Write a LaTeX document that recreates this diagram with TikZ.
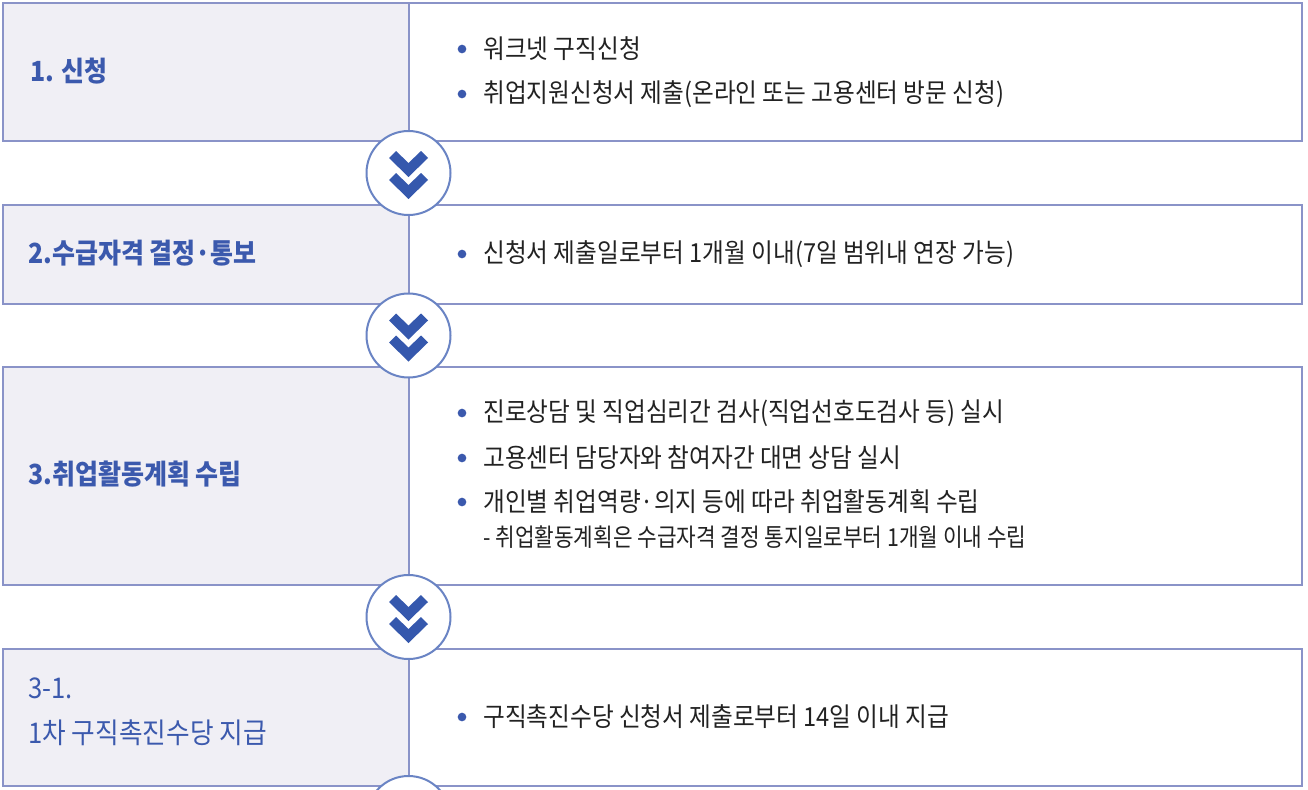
\documentclass[tikz,border=0pt]{standalone}
\usepackage{fontspec}
\setmainfont{Noto Sans CJK KR}[FakeStretch=0.9]
\newfontfamily\subfont{Noto Sans CJK KR}[FakeStretch=0.86]
\definecolor{bordc}{HTML}{8A93C8}
\definecolor{cellc}{HTML}{F0EFF5}
\definecolor{titlec}{HTML}{3B59AD}
\definecolor{chevc}{HTML}{3558AD}
\definecolor{circc}{HTML}{6A84C4}
\definecolor{textc}{HTML}{222222}
\tikzset{
  cellbox/.style={draw=bordc, line width=1.1pt},
  titletext/.style={anchor=west, inner sep=0pt, text=titlec, font=\fontsize{20.8pt}{29pt}\selectfont\bfseries, align=left},
  titletextb/.style={anchor=west, inner sep=0pt, text=titlec, font=\fontsize{21.4pt}{34pt}\selectfont, align=left},
  bodytext/.style={anchor=west, inner sep=0pt, text=textc, font=\fontsize{19.7pt}{23pt}\selectfont},
  subtext/.style={anchor=west, inner sep=0pt, text=textc, font=\fontsize{18.6pt}{22pt}\subfont},
  bulletdot/.style={circle, fill=titlec, inner sep=0pt, minimum size=6.5pt},
  chevcircle/.style={circle, draw=circc, fill=white, line width=1.5pt, minimum size=63pt, inner sep=0pt},
  pics/chevrons/.style={code={
    \fill[chevc] (-19.5,-15) -- (-12.5,-22) -- (0,-10) -- (12.5,-22) -- (19.5,-15) -- (0,4) -- cycle;
    \fill[chevc] (-19.5,7) -- (-12.5,0) -- (0,12) -- (12.5,0) -- (19.5,7) -- (0,26) -- cycle;
  }}
}
\begin{document}
\begin{tikzpicture}[x=0.75pt,y=-0.75pt]
\useasboundingbox (0,0) rectangle (1308,789);
\clip (0,0) rectangle (1308,789);
\fill[white] (0,0) rectangle (1308,789);
% boxes
\foreach \top/\bot in {3/141, 205/304, 367/585, 649/786}{
  \fill[cellc] (3,\top) rectangle (409,\bot);
  \draw[cellbox] (3,\top) rectangle (1302,\bot);
  \draw[cellbox] (409,\top) -- (409,\bot);
}
% titles
\node[titletext] (t1) at (30,71) {1. 신청};
\node[titletext] (t2) at (28,253) {2.수급자격 결정·통보};
\node[titletext] (t3) at (28,474) {3.취업활동계획 수립};
\node[titletextb] (t4) at (28,712) {3-1.\\1차 구직촉진수당 지급};
% body
\node[bulletdot] (b11) at (462,49) {};
\node[bodytext] (l11) at (483,49) {워크넷 구직신청};
\node[bulletdot] (b12) at (462,94) {};
\node[bodytext] (l12) at (483,94) {취업지원신청서 제출(온라인 또는 고용센터 방문 신청)};
\node[bulletdot] (b21) at (462,254) {};
\node[bodytext] (l21) at (483,254) {신청서 제출일로부터 1개월 이내(7일 범위내 연장 가능)};
\node[bulletdot] (b31) at (462,413) {};
\node[bodytext] (l31) at (483,413) {진로상담 및 직업심리간 검사(직업선호도검사 등) 실시};
\node[bulletdot] (b32) at (462,458) {};
\node[bodytext] (l32) at (483,458) {고용센터 담당자와 참여자간 대면 상담 실시};
\node[bulletdot] (b33) at (462,502) {};
\node[bodytext] (l33) at (483,502) {개인별 취업역량·의지 등에 따라 취업활동계획 수립};
\node[subtext] (l34) at (483,537) {- 취업활동계획은 수급자격 결정 통지일로부터 1개월 이내 수립};
\node[bulletdot] (b41) at (462,717) {};
\node[bodytext] (l41) at (483,717) {구직촉진수당 신청서 제출로부터 14일 이내 지급};
% chevron circles
\foreach \n/\cy in {c1/173, c2/335.5, c3/617, c4/818}{
  \node[chevcircle] (\n) at (408.5,\cy) {};
  \pic at (408.5,\cy) {chevrons};
}
\end{tikzpicture}
\end{document}
